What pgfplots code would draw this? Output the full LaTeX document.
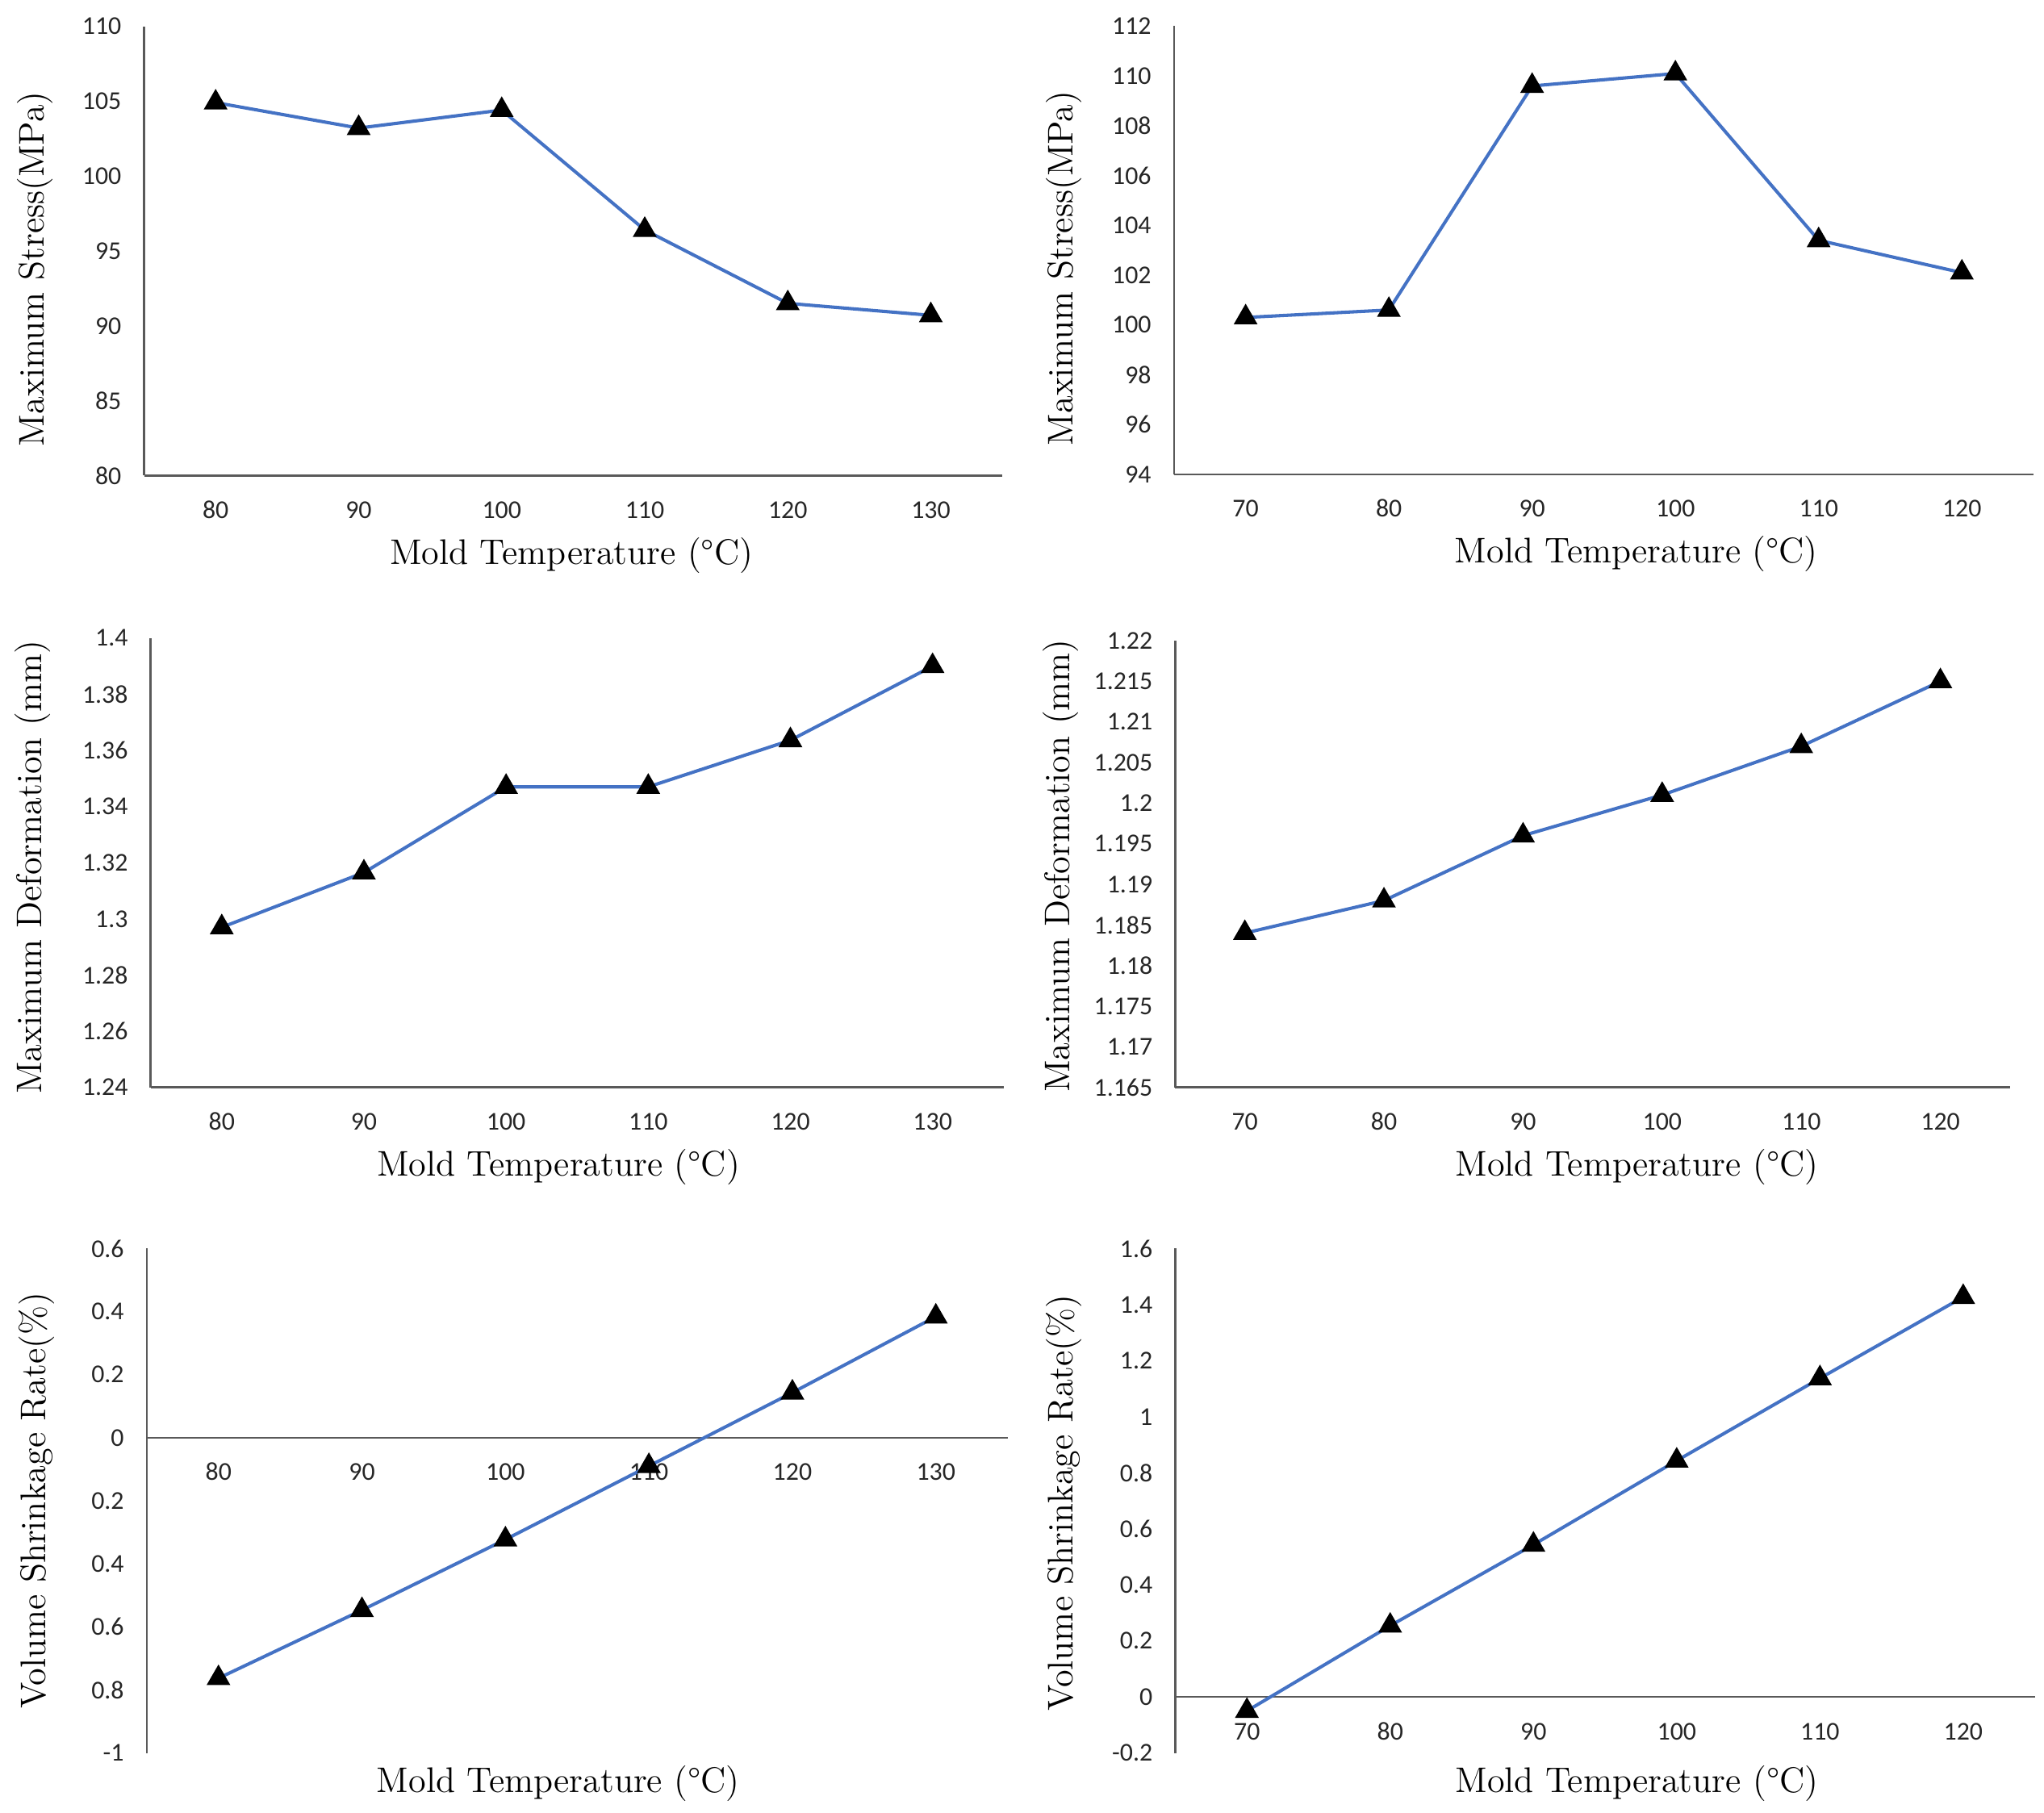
\documentclass[border=0pt]{standalone}
\usepackage{fontspec}
\usepackage{pgfplots}
\pgfplotsset{compat=1.18}
\newfontfamily\tickfont{Carlito}
\definecolor{serblue}{RGB}{68,114,196}
\pgfplotsset{
  panel/.style={
    scale only axis, anchor=south west,
    axis x line*=bottom, axis y line*=left,
    axis line style={black!65, line width=0.8pt, -},
    major tick length=0pt,
    tick label style={font=\tickfont\fontsize{9.8}{11}\selectfont, text=black!85},
    yticklabel style={anchor=east, inner sep=0pt, xshift=-8.5pt},
    xticklabel style={anchor=base, inner sep=0pt, yshift=-16.3pt},
    /pgf/number format/assume math mode=true,
    label style={font=\fontsize{13.6}{16}\selectfont},
    xlabel style={anchor=center},
    ylabel style={anchor=center},
    clip=false,
  },
  ser/.style={color=serblue, line width=1.25pt, mark=triangle*, mark size=4pt,
    mark options={fill=black, draw=black, solid}},
}
\begin{document}
\begin{tikzpicture}
\path[use as bounding box] (0,0) rectangle (780pt,-691.9pt);

% Panel 1
\begin{axis}[panel, at={(55pt,-181.5pt)}, width=327.5pt, height=171.5pt,
  xmin=75, xmax=135, ymin=80, ymax=110,
  xtick={80,90,100,110,120,130},
  ytick={80,85,90,95,100,105,110},
  yticklabels={80,85,90,95,100,105,110},
  xlabel={Mold Temperature (°C)},
  ylabel={Maximum Stress(MPa)},
  xlabel style={at={(axis description cs:0.498,-0.178)}},
  ylabel style={at={(axis description cs:-0.127,0.46)}},
]
\addplot[ser] coordinates {(80,104.9) (90,103.2) (100,104.4) (110,96.4) (120,91.5) (130,90.7)};
\end{axis}

% Panel 2
\begin{axis}[panel, at={(448pt,-181pt)}, width=328pt, height=171pt,
  xmin=65, xmax=125, ymin=94, ymax=112,
  xtick={70,80,90,100,110,120},
  ytick={94,96,98,100,102,104,106,108,110,112},
  yticklabels={94,96,98,100,102,104,106,108,110,112},
  xlabel={Mold Temperature (°C)},
  ylabel={Maximum Stress(MPa)},
  xlabel style={at={(axis description cs:0.538,-0.178)}},
  ylabel style={at={(axis description cs:-0.128,0.46)}},
]
\addplot[ser] coordinates {(70,100.3) (80,100.6) (90,109.6) (100,110.1) (110,103.4) (120,102.1)};
\end{axis}

% Panel 3
\begin{axis}[panel, at={(57.5pt,-415pt)}, width=325.5pt, height=171.5pt,
  xmin=75, xmax=135, ymin=1.24, ymax=1.4,
  xtick={80,90,100,110,120,130},
  ytick={1.24,1.26,1.28,1.3,1.32,1.34,1.36,1.38,1.4},
  yticklabels={1.24,1.26,1.28,1.3,1.32,1.34,1.36,1.38,1.4},
  xlabel={Mold Temperature (°C)},
  ylabel={Maximum Deformation (mm)},
  xlabel style={at={(axis description cs:0.478,-0.178)}},
  ylabel style={at={(axis description cs:-0.138,0.49)}},
]
\addplot[ser] coordinates {(80,1.297) (90,1.3165) (100,1.347) (110,1.347) (120,1.3636) (130,1.390)};
\end{axis}

% Panel 4
\begin{axis}[panel, at={(448.5pt,-415pt)}, width=318.5pt, height=170.5pt,
  xmin=65, xmax=125, ymin=1.165, ymax=1.22,
  xtick={70,80,90,100,110,120},
  ytick={1.165,1.17,1.175,1.18,1.185,1.19,1.195,1.2,1.205,1.21,1.215,1.22},
  yticklabels={1.165,1.17,1.175,1.18,1.185,1.19,1.195,1.2,1.205,1.21,1.215,1.22},
  xlabel={Mold Temperature (°C)},
  ylabel={Maximum Deformation (mm)},
  xlabel style={at={(axis description cs:0.553,-0.178)}},
  ylabel style={at={(axis description cs:-0.137,0.496)}},
]
\addplot[ser] coordinates {(70,1.184) (80,1.188) (90,1.196) (100,1.201) (110,1.207) (120,1.215)};
\end{axis}

% Panel 5
\begin{axis}[panel, at={(56pt,-669pt)}, width=328.5pt, height=192.5pt,
  axis x line*=middle,
  xmin=75, xmax=135, ymin=-1, ymax=0.6,
  xtick={80,90,100,110,120,130},
  ytick={-1,-0.8,-0.6,-0.4,-0.2,0,0.2,0.4,0.6},
  yticklabels={-1,0.8,0.6,0.4,0.2,0,0.2,0.4,0.6},
  xlabel={Mold Temperature (°C)},
  ylabel={Volume Shrinkage Rate(\%)},
  xlabel style={at={(axis description cs:0.478,-0.06)}},
  ylabel style={at={(axis description cs:-0.128,0.50)}},
]
\addplot[ser] coordinates {(80,-0.763) (90,-0.547) (100,-0.323) (110,-0.09) (120,0.143) (130,0.384)};
\end{axis}

% Panel 6
\begin{axis}[panel, at={(448.5pt,-669pt)}, width=328pt, height=192.5pt,
  axis x line*=middle,
  xmin=65, xmax=125, ymin=-0.2, ymax=1.6,
  xtick={70,80,90,100,110,120},
  ytick={-0.2,0,0.2,0.4,0.6,0.8,1,1.2,1.4,1.6},
  yticklabels={-0.2,0,0.2,0.4,0.6,0.8,1,1.2,1.4,1.6},
  xlabel={Mold Temperature (°C)},
  ylabel={Volume Shrinkage Rate(\%)},
  xlabel style={at={(axis description cs:0.537,-0.06)}},
  ylabel style={at={(axis description cs:-0.13,0.496)}},
]
\addplot[ser] coordinates {(70,-0.05) (80,0.254) (90,0.543) (100,0.843) (110,1.137) (120,1.427)};
\end{axis}
\end{tikzpicture}
\end{document}
